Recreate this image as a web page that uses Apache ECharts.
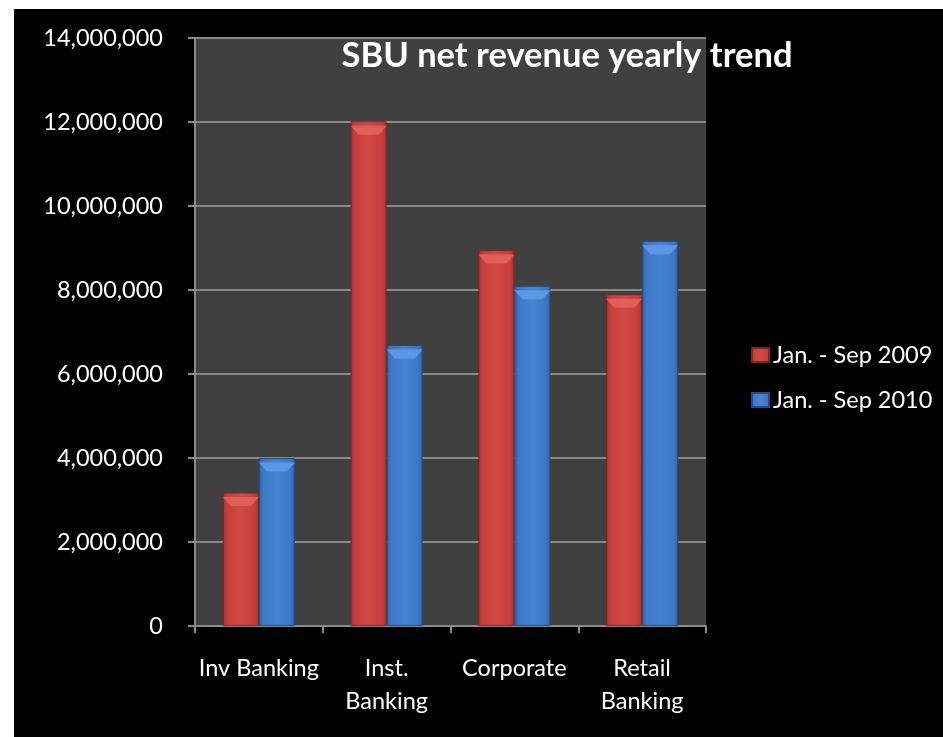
<!DOCTYPE html>
<html>
<head>
<meta charset="utf-8">
<script src="https://cdn.jsdelivr.net/npm/echarts@6/dist/echarts.min.js"></script>
<style>
  html, body { margin: 0; padding: 0; background: #ffffff; }
  #frame { position: absolute; left: 14px; top: 9px; width: 929px; height: 728px; background: #000000; }
  #chart { position: absolute; left: 0; top: 0; width: 943px; height: 737px; }
</style>
</head>
<body>
<div id="frame"></div>
<div id="chart"></div>
<script>
// SBU net revenue by business unit, two nine-month periods
const categories = ['Inv Banking', 'Inst.\nBanking', 'Corporate', 'Retail\nBanking'];
const seriesNames = ['Jan. - Sep 2009', 'Jan. - Sep 2010'];
const revenue2009 = [3180000, 12020000, 8950000, 7900000];
const revenue2010 = [4000000, 6690000, 8100000, 9170000];
const yTicks = { min: 0, max: 14000000, interval: 2000000 };

const FONT = 'Lato';
const LABEL_SIZE = 23.5;
const BAR_W = 36;

function barGradient(edge, mid, light) {
  return new echarts.graphic.LinearGradient(0, 0, 1, 0, [
    { offset: 0, color: edge },
    { offset: 0.12, color: mid },
    { offset: 0.5, color: light },
    { offset: 0.88, color: mid },
    { offset: 1, color: edge }
  ]);
}

const redFill = barGradient('#a8332f', '#c63e3a', '#d24843');
const blueFill = barGradient('#2f62a8', '#3c78c6', '#4684d2');

// bevelled cap drawn on top of each bar
const capPath = 'path://M0,0 L36,0 L28,9 L8,9 Z';

function capSeries(values, color) {
  return {
    type: 'pictorialBar',
    data: values,
    barWidth: BAR_W,
    barGap: '0%',
    symbol: capPath,
    symbolSize: [BAR_W, 9],
    symbolPosition: 'end',
    symbolOffset: [0, '50%'],
    itemStyle: { color: color },
    z: 3,
    silent: true,
    legendHoverLink: false
  };
}

const chart = echarts.init(document.getElementById('chart'), null, { renderer: 'canvas' });

chart.setOption({
  backgroundColor: 'transparent',
  animation: false,
  title: {
    text: 'SBU net revenue yearly trend',
    left: 562,
    top: 33,
    textAlign: 'center',
    textStyle: { color: '#ffffff', fontFamily: FONT, fontWeight: 'bold', fontSize: 34.5 }
  },
  legend: {
    orient: 'vertical',
    left: 746,
    top: 338,
    itemGap: 21,
    itemWidth: 17,
    itemHeight: 14,
    icon: 'rect',
    textStyle: { color: '#ffffff', fontFamily: FONT, fontSize: LABEL_SIZE, lineHeight: 24, padding: [0, 0, 0, -1] },
    data: seriesNames
  },
  grid: { left: 195, right: 237, top: 38, bottom: 111, show: true, backgroundColor: '#404040', borderWidth: 0 },
  xAxis: {
    type: 'category',
    data: categories,
    axisLine: { lineStyle: { color: '#8a8a8a', width: 2 } },
    axisTick: { show: true, alignWithLabel: false, length: 7, lineStyle: { color: '#8a8a8a', width: 2 } },
    axisLabel: { interval: 0, color: '#ffffff', fontFamily: FONT, fontSize: LABEL_SIZE, margin: 26, lineHeight: 33 }
  },
  yAxis: {
    type: 'value',
    min: yTicks.min,
    max: yTicks.max,
    interval: yTicks.interval,
    axisLine: { show: true, lineStyle: { color: '#8a8a8a', width: 2 } },
    axisTick: { show: true, length: 7, lineStyle: { color: '#8a8a8a', width: 2 } },
    splitLine: { lineStyle: { color: '#8a8a8a', width: 2 } },
    axisLabel: {
      color: '#ffffff', fontFamily: FONT, fontSize: LABEL_SIZE, margin: 32,
      formatter: v => v.toLocaleString('en-US')
    }
  },
  series: [
    {
      name: seriesNames[0],
      type: 'bar',
      data: revenue2009,
      barWidth: BAR_W,
      barGap: '0%',
      itemStyle: { color: redFill, borderColor: '#7d2623', borderWidth: 1 }
    },
    {
      name: seriesNames[1],
      type: 'bar',
      data: revenue2010,
      barWidth: BAR_W,
      barGap: '0%',
      itemStyle: { color: blueFill, borderColor: '#244c82', borderWidth: 1 }
    },
    capSeries(revenue2009, '#df5f5a'),
    capSeries(revenue2010, '#5b98e4')
  ]
});
</script>
</body>
</html>
